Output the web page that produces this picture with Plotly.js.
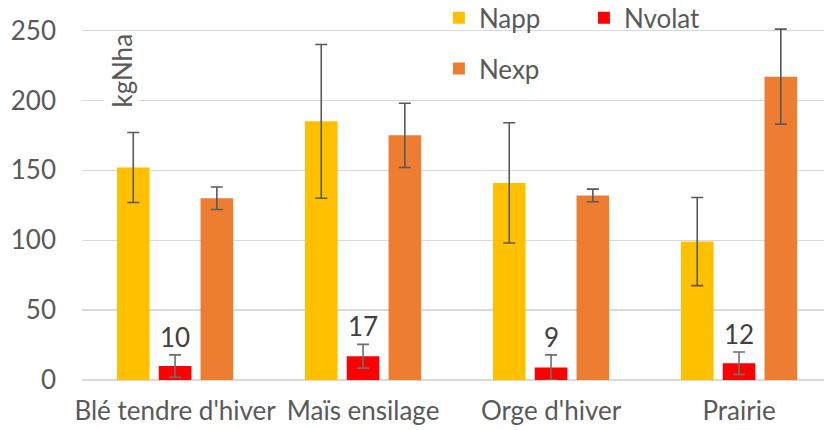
<!DOCTYPE html>
<html><head><meta charset="utf-8">
<script src="https://cdn.plot.ly/plotly-3.0.1.min.js"></script>
<style>html,body{margin:0;padding:0;background:#fff;}#chart{width:824px;height:430px;}</style>
</head><body><div id="chart"></div>
<script>
const categories = ["Blé tendre d'hiver", "Maïs ensilage", "Orge d'hiver", "Prairie"];
const nappValues = [152, 185, 141, 99];
const nappErrors = [25, 55, 43, 31.5];
const nvolatValues = [10, 17, 9, 12];
const nvolatErrors = [8, 8.5, 9, 8];
const nexpValues = [130, 175, 132, 217];
const nexpErrors = [8, 23, 4.5, 34];
const yTicks = [0, 50, 100, 150, 200, 250];

const grey = '#595959';
const FONT = 'Lato, "Open Sans", sans-serif';
const FS = 26;
function errBar(arr, col) {
  return {type: 'data', array: arr, visible: true, color: col, thickness: 1.6, width: 6};
}
const traces = [
  {type: 'bar', name: 'Napp', x: categories, y: nappValues, marker: {color: '#FFC000'}, error_y: errBar(nappErrors, grey), legend: 'legend'},
  {type: 'bar', name: 'Nvolat', x: categories, y: nvolatValues, marker: {color: '#FF0000'}, error_y: errBar(nvolatErrors, '#6f6f6f'), legend: 'legend'},
  {type: 'bar', name: 'Nexp', x: categories, y: nexpValues, marker: {color: '#ED7D31'}, error_y: errBar(nexpErrors, grey), legend: 'legend2'}
];
const annotations = categories.map((c, i) => ({
  x: c, y: nvolatValues[i] + nvolatErrors[i], xref: 'x', yref: 'y',
  text: String(nvolatValues[i]), showarrow: false, yanchor: 'bottom', yshift: 0,
  font: {family: FONT, size: FS, color: '#404040'}
}));
annotations.push({
  xref: 'paper', yref: 'paper', x: 0.054, y: 0.877, xanchor: 'center', yanchor: 'middle',
  text: 'kgNha', textangle: -90,
  showarrow: false, font: {family: FONT, size: FS, color: grey}, bgcolor: '#ffffff'
});
const layout = {
  width: 824, height: 430,
  margin: {l: 82, r: 0, t: 26.5, b: 50, pad: 0, autoexpand: false},
  paper_bgcolor: '#fff', plot_bgcolor: '#fff',
  barmode: 'group', bargap: 0.333, bargroupgap: 0.22,
  font: {family: FONT, size: FS, color: grey},
  xaxis: {type: 'category', range: [-0.495, 3.452], showgrid: false, showline: false, ticks: '', zeroline: false,
    tickfont: {family: FONT, size: FS, color: grey}, ticklabelstandoff: 13, automargin: false},
  yaxis: {range: [0, 252.5], tickvals: yTicks, showgrid: true, gridcolor: '#d9d9d9', gridwidth: 1.3,
    zeroline: true, zerolinecolor: '#d9d9d9', zerolinewidth: 1.3, showline: false, ticks: '',
    tickfont: {family: FONT, size: FS, color: grey}, ticklabelstandoff: 25, automargin: false},
  showlegend: true,
  legend: {orientation: 'h', x: 0.481, xanchor: 'left', y: 1.026, yanchor: 'middle', entrywidth: 100, entrywidthmode: 'pixels',
    font: {family: FONT, size: FS, color: grey}, bgcolor: 'rgba(0,0,0,0)', traceorder: 'normal'},
  legend2: {orientation: 'h', x: 0.481, xanchor: 'left', y: 0.882, yanchor: 'middle',
    font: {family: FONT, size: FS, color: grey}, bgcolor: 'rgba(0,0,0,0)'},
  annotations: annotations
};
Plotly.newPlot('chart', traces, layout, {displayModeBar: false, staticPlot: true});
</script></body></html>
